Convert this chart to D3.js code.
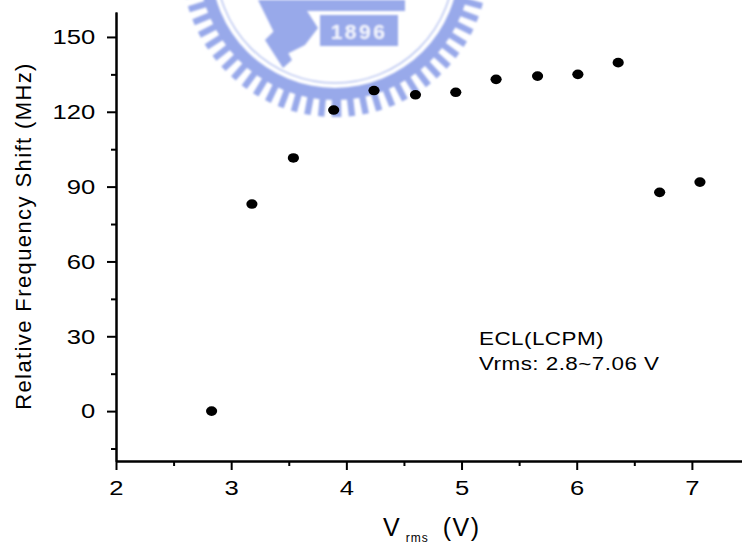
<!DOCTYPE html>
<html>
<head>
<meta charset="utf-8">
<script src="https://cdn.jsdelivr.net/npm/d3@7"></script>
<style>
  html, body { margin: 0; padding: 0; background: #fff; }
  svg { display: block; font-family: "Liberation Sans", Arial, sans-serif; }
</style>
</head>
<body>
<svg id="chart" width="742" height="546"></svg>
<script>
// Relative frequency shift of the ECL (LCPM) versus applied RMS voltage
const vrms  = [2.83, 3.18, 3.54, 3.89, 4.24, 4.60, 4.95, 5.30, 5.66, 6.01, 6.36, 6.72, 7.07];
const shift = [0, 83, 101.5, 120.7, 128.5, 126.8, 127.8, 133, 134.3, 135, 139.7, 87.7, 91.8];

const xTicks = [2, 3, 4, 5, 6, 7];
const xMinor = [2.5, 3.5, 4.5, 5.5, 6.5, 7.5];
const yTicks = [0, 30, 60, 90, 120, 150];
const yMinor = [-15, 15, 45, 75, 105, 135];

const noteLines = ["ECL(LCPM)", "Vrms: 2.8~7.06 V"];

const svg = d3.select("#chart");

const x = d3.scaleLinear().domain([2, 7.6]).range([116, 761]);
const y = d3.scaleLinear().domain([-20, 160]).range([461, 12]);

// Institutional watermark, faint blue, behind the plot
svg.append("defs").append("filter").attr("id", "soft")
  .append("feGaussianBlur").attr("stdDeviation", 0.8);
const wm = svg.append("g").attr("fill", "#98a9ea").attr("filter", "url(#soft)");
const cx = 335, cy = -36;
const ring = d3.arc()({innerRadius: 124, outerRadius: 136, startAngle: 0, endAngle: 2 * Math.PI});
wm.append("path").attr("transform", `translate(${cx},${cy})`).attr("d", ring);
wm.append("circle").attr("cx", cx).attr("cy", cy).attr("r", 119)
  .attr("fill", "none").attr("stroke", "#b9c5f0").attr("stroke-width", 1.5);
const teeth = d3.range(0, 360, 5.2);
wm.append("g").attr("transform", `translate(${cx},${cy})`)
  .selectAll("rect").data(teeth).join("rect")
  .attr("x", -3.2).attr("y", 134).attr("width", 6.4).attr("height", 19)
  .attr("transform", d => `rotate(${d})`);
wm.append("rect").attr("x", 300).attr("y", 0).attr("width", 105).attr("height", 11);
wm.append("rect").attr("x", 320).attr("y", 15).attr("width", 78).attr("height", 31);
wm.append("text").attr("x", 359).attr("y", 39).attr("text-anchor", "middle")
  .attr("fill", "#f4f6fd").attr("font-size", 21).attr("font-weight", "bold")
  .attr("letter-spacing", 2.5).text("1896");
wm.append("path").attr("d", "M258,0 L300,0 L318,28 L305,45 L285,55 Z");
wm.append("path").attr("d", "M275,30 L292,60 L283,68 L265,40 Z");

// Axes
function styleAxis(g) {
  g.select(".domain").attr("stroke", "#000").attr("stroke-width", 2);
  g.selectAll(".tick line").attr("stroke", "#000").attr("stroke-width", 2);
}

const gx = svg.append("g").attr("transform", `translate(0,${y(-20)})`)
  .call(d3.axisBottom(x).tickValues(xTicks).tickSize(9).tickPadding(10)
        .tickSizeOuter(0).tickFormat(d3.format("d")));
styleAxis(gx);
gx.selectAll("text").attr("font-size", 21).attr("fill", "#000")
  .attr("font-family", "Liberation Sans, Arial, sans-serif")
  .attr("transform", "scale(1.22,1)");

const gxm = svg.append("g").attr("transform", `translate(0,${y(-20)})`)
  .call(d3.axisBottom(x).tickValues(xMinor).tickSize(5).tickSizeOuter(0).tickFormat(""));
styleAxis(gxm);

const gy = svg.append("g").attr("transform", `translate(${x(2)},0)`)
  .call(d3.axisLeft(y).tickValues(yTicks).tickSize(9).tickPadding(8)
        .tickSizeOuter(0).tickFormat(d3.format("d")));
styleAxis(gy);
gy.selectAll("text").attr("font-size", 21).attr("fill", "#000")
  .attr("font-family", "Liberation Sans, Arial, sans-serif")
  .attr("transform", "scale(1.22,1)");

const gym = svg.append("g").attr("transform", `translate(${x(2)},0)`)
  .call(d3.axisLeft(y).tickValues(yMinor).tickSize(5).tickSizeOuter(0).tickFormat(""));
styleAxis(gym);

// Data points
svg.append("g").selectAll("ellipse")
  .data(vrms.map((v, i) => [v, shift[i]]))
  .join("ellipse")
  .attr("cx", d => x(d[0]))
  .attr("cy", d => y(d[1]))
  .attr("rx", 5.6).attr("ry", 4.8)
  .attr("fill", "#000");

// Axis titles
svg.append("text")
  .attr("transform", "translate(31,236) rotate(-90)")
  .attr("text-anchor", "middle")
  .attr("font-size", 22)
  .attr("letter-spacing", 1.4)
  .attr("fill", "#000")
  .text("Relative Frequency Shift (MHz)");

const xt = svg.append("text").attr("x", 383).attr("y", 536)
  .attr("font-size", 25).attr("fill", "#000");
xt.append("tspan").text("V");
xt.append("tspan").attr("font-size", 12).attr("dx", 6).attr("dy", 6)
  .attr("letter-spacing", 1).text("rms");
xt.append("tspan").attr("dx", 14).attr("dy", -6).attr("letter-spacing", 1.5).text("(V)");

// Annotation
const note = svg.append("g").attr("transform", "translate(479,345) scale(1.18,1)");
note.selectAll("text").data(noteLines).join("text")
  .attr("x", 0).attr("y", (d, i) => i * 25)
  .attr("font-size", 19).attr("letter-spacing", 0.4).attr("fill", "#000")
  .text(d => d);
</script>
</body>
</html>
